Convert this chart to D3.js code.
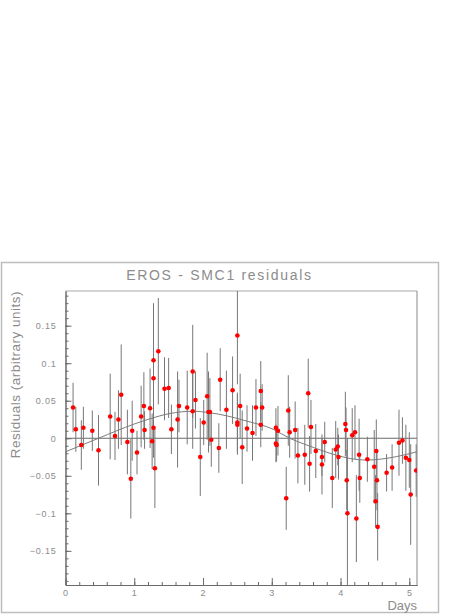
<!DOCTYPE html>
<html>
<head>
<meta charset="utf-8">
<script src="https://cdn.jsdelivr.net/npm/d3@7"></script>
<style>
  body { margin: 0; background: #fff; }
  text { font-family: "Liberation Sans", Arial, sans-serif; fill: #8c8c8c; }
</style>
</head>
<body>
<div id="chart"></div>
<script>
  // observation times (days), residuals and their errors
  var days = [0.11, 0.15, 0.23, 0.26, 0.39, 0.48, 0.65, 0.72, 0.77, 0.81,
    0.90, 0.95, 0.97, 1.04, 1.10, 1.14, 1.15, 1.23, 1.26, 1.28,
    1.28, 1.28, 1.30, 1.35, 1.44, 1.50, 1.54, 1.63, 1.65, 1.77,
    1.85, 1.85, 1.89, 1.96, 2.01, 2.06, 2.08, 2.10, 2.12, 2.23,
    2.25, 2.34, 2.43, 2.50, 2.50, 2.50, 2.54, 2.57, 2.64, 2.72,
    2.77, 2.84, 2.86, 2.84, 3.06, 3.06, 3.07, 3.09, 3.21, 3.24,
    3.26, 3.34, 3.38, 3.48, 3.53, 3.55, 3.57, 3.64, 3.73, 3.73,
    3.77, 3.88, 3.93, 3.96, 3.97, 4.07, 4.08, 4.09, 4.10, 4.17,
    4.21, 4.23, 4.27, 4.28, 4.39, 4.49, 4.51, 4.52, 4.53, 4.54,
    4.67, 4.75, 4.85, 4.90, 4.95, 5.00, 5.02, 5.10];
  var resid = [0.041, 0.012, -0.009, 0.014, 0.010, -0.016, 0.029, 0.003, 0.025, 0.058,
    -0.005, -0.054, 0.010, -0.019, 0.029, 0.043, 0.011, 0.040, -0.004, 0.104,
    0.080, 0.014, -0.040, 0.116, 0.066, 0.067, 0.012, 0.025, 0.043, 0.041,
    0.089, 0.036, 0.051, -0.025, 0.021, 0.056, 0.035, 0.035, -0.002, -0.013,
    0.078, 0.038, 0.064, 0.137, 0.021, 0.018, 0.043, -0.012, 0.013, 0.007,
    0.041, 0.063, 0.041, 0.018, 0.014, -0.007, -0.009, 0.010, -0.080, 0.037,
    0.008, 0.011, -0.023, -0.022, 0.060, -0.034, 0.015, -0.017, -0.035, -0.025,
    -0.005, -0.053, -0.015, -0.011, -0.025, 0.019, 0.011, -0.056, -0.100, 0.004,
    0.008, -0.107, -0.022, -0.053, -0.028, -0.038, -0.084, -0.017, -0.056, -0.118,
    -0.046, -0.039, -0.006, -0.003, -0.026, -0.029, -0.075, -0.043];
  var errs = [0.033, 0.030, 0.033, 0.028, 0.027, 0.047, 0.057, 0.032, 0.039, 0.067,
    0.043, 0.053, 0.040, 0.029, 0.041, 0.045, 0.025, 0.053, 0.037, 0.076,
    0.050, 0.040, 0.053, 0.071, 0.042, 0.040, 0.033, 0.064, 0.035, 0.049,
    0.062, 0.050, 0.038, 0.052, 0.030, 0.058, 0.054, 0.045, 0.036, 0.033,
    0.042, 0.052, 0.045, 0.065, 0.040, 0.040, 0.043, 0.049, 0.031, 0.037,
    0.038, 0.040, 0.031, 0.030, 0.026, 0.025, 0.022, 0.033, 0.042, 0.047,
    0.034, 0.038, 0.037, 0.040, 0.046, 0.037, 0.036, 0.036, 0.040, 0.025,
    0.027, 0.040, 0.038, 0.025, 0.030, 0.043, 0.030, 0.040, 0.100, 0.036,
    0.036, 0.058, 0.048, 0.033, 0.030, 0.049, 0.035, 0.042, 0.040, 0.045,
    0.025, 0.031, 0.044, 0.031, 0.044, 0.037, 0.067, 0.035];

  // fitted curve
  var fitDays = [0, 0.48, 1.0, 1.23, 1.52, 1.85, 2.10, 2.34, 2.61, 3.02, 3.26, 3.51, 3.92, 4.14, 4.38, 4.57, 4.81, 5.11];
  var fitVals = [-0.018, 0, 0.019, 0.026, 0.033, 0.036, 0.034, 0.030, 0.0235, 0.012, 0, -0.009, -0.022, -0.027, -0.029, -0.028, -0.0245, -0.018];

  var xTicks = [0, 1, 2, 3, 4, 5];
  var yTicks = [-0.15, -0.1, -0.05, 0, 0.05, 0.1, 0.15];

  var W = 474, H = 614;
  var plot = { left: 65.5, right: 417, top: 291, bottom: 585 };

  var svg = d3.select('#chart')
    .append('svg')
    .attr('width', W)
    .attr('height', H);

  // outer pad frame
  svg.append('rect')
    .attr('x', 1.5).attr('y', 262.5)
    .attr('width', 437).attr('height', 350)
    .attr('fill', 'none')
    .attr('stroke', '#bdbdbd')
    .attr('stroke-width', 1.5);

  var x = d3.scaleLinear().domain([0, 5.112]).range([plot.left, plot.right]);
  var y = d3.scaleLinear().domain([-0.1955, 0.1962]).range([plot.bottom, plot.top]);

  var fmt = function(d) { return d === 0 ? '0' : d3.format('~g')(d); };

  var yMinor = d3.range(-19, 20).map(function(i) { return i / 100; });
  var xMinor = d3.range(0, 26).map(function(i) { return i / 5; });

  svg.append('clipPath').attr('id', 'clip')
    .append('rect')
    .attr('x', plot.left).attr('y', plot.top)
    .attr('width', plot.right - plot.left).attr('height', plot.bottom - plot.top);

  // top and right frame lines
  svg.append('line')
    .attr('x1', plot.left).attr('x2', plot.right)
    .attr('y1', plot.top).attr('y2', plot.top)
    .attr('stroke', '#a8a8a8');
  svg.append('line')
    .attr('x1', plot.right).attr('x2', plot.right)
    .attr('y1', plot.top).attr('y2', plot.bottom)
    .attr('stroke', '#888');

  // zero line
  svg.append('line')
    .attr('x1', plot.left).attr('x2', plot.right)
    .attr('y1', y(0)).attr('y2', y(0))
    .attr('stroke', '#6a6a6a');

  // axes
  svg.append('g')
    .attr('transform', 'translate(' + plot.left + ',0)')
    .call(d3.axisLeft(y).tickValues(yMinor).tickSize(-3).tickSizeOuter(0).tickFormat(''));
  svg.append('g')
    .attr('class', 'y-axis')
    .attr('transform', 'translate(' + plot.left + ',0)')
    .call(d3.axisLeft(y).tickValues(yTicks).tickSize(-6).tickSizeOuter(0).tickPadding(9).tickFormat(fmt));

  svg.append('g')
    .attr('transform', 'translate(0,' + plot.bottom + ')')
    .call(d3.axisBottom(x).tickValues(xMinor).tickSize(-3).tickSizeOuter(0).tickFormat(''));
  svg.append('g')
    .attr('class', 'x-axis')
    .attr('transform', 'translate(0,' + plot.bottom + ')')
    .call(d3.axisBottom(x).tickValues(xTicks).tickSize(-7).tickSizeOuter(0).tickPadding(5).tickFormat(fmt));

  svg.selectAll('.domain').attr('stroke', '#6a6a6a');
  svg.selectAll('.tick line').attr('stroke', '#6a6a6a');
  svg.selectAll('.tick text')
    .style('font-family', '"Liberation Sans", Arial, sans-serif')
    .style('font-size', '9px')
    .style('letter-spacing', '0.8px')
    .attr('fill', '#8c8c8c');

  // fit curve
  var line = d3.line()
    .x(function(d, i) { return x(d); })
    .y(function(d, i) { return y(fitVals[i]); })
    .curve(d3.curveMonotoneX);

  svg.append('path')
    .datum(fitDays)
    .attr('d', line)
    .attr('fill', 'none')
    .attr('stroke', '#7c7c7c')
    .attr('stroke-width', 1);

  var pts = days.map(function(d, i) { return { t: d, v: resid[i], e: errs[i] }; });

  // error bars
  svg.append('g')
    .attr('clip-path', 'url(#clip)')
    .selectAll('.err')
    .data(pts)
    .enter().append('line')
    .attr('class', 'err')
    .attr('x1', function(d) { return x(d.t); })
    .attr('x2', function(d) { return x(d.t); })
    .attr('y1', function(d) { return y(d.v + d.e); })
    .attr('y2', function(d) { return y(d.v - d.e); })
    .attr('stroke', '#777')
    .attr('stroke-width', 1);

  // points
  svg.append('g')
    .attr('clip-path', 'url(#clip)')
    .selectAll('.pt')
    .data(pts)
    .enter().append('circle')
    .attr('class', 'pt')
    .attr('cx', function(d) { return x(d.t); })
    .attr('cy', function(d) { return y(d.v); })
    .attr('r', 2.3)
    .attr('fill', '#ff0000');

  // titles
  svg.append('text')
    .attr('x', 219.5).attr('y', 280)
    .attr('text-anchor', 'middle')
    .style('font-size', '14px')
    .style('letter-spacing', '1.7px')
    .text('EROS - SMC1 residuals');

  svg.append('text')
    .attr('x', plot.right).attr('y', 610)
    .attr('text-anchor', 'end')
    .style('font-size', '13px')
    .text('Days');

  svg.append('text')
    .attr('transform', 'translate(20,' + plot.top + ') rotate(-90)')
    .attr('text-anchor', 'end')
    .style('font-size', '13.5px')
    .style('letter-spacing', '0.5px')
    .text('Residuals (arbitrary units)');
</script>
</body>
</html>
